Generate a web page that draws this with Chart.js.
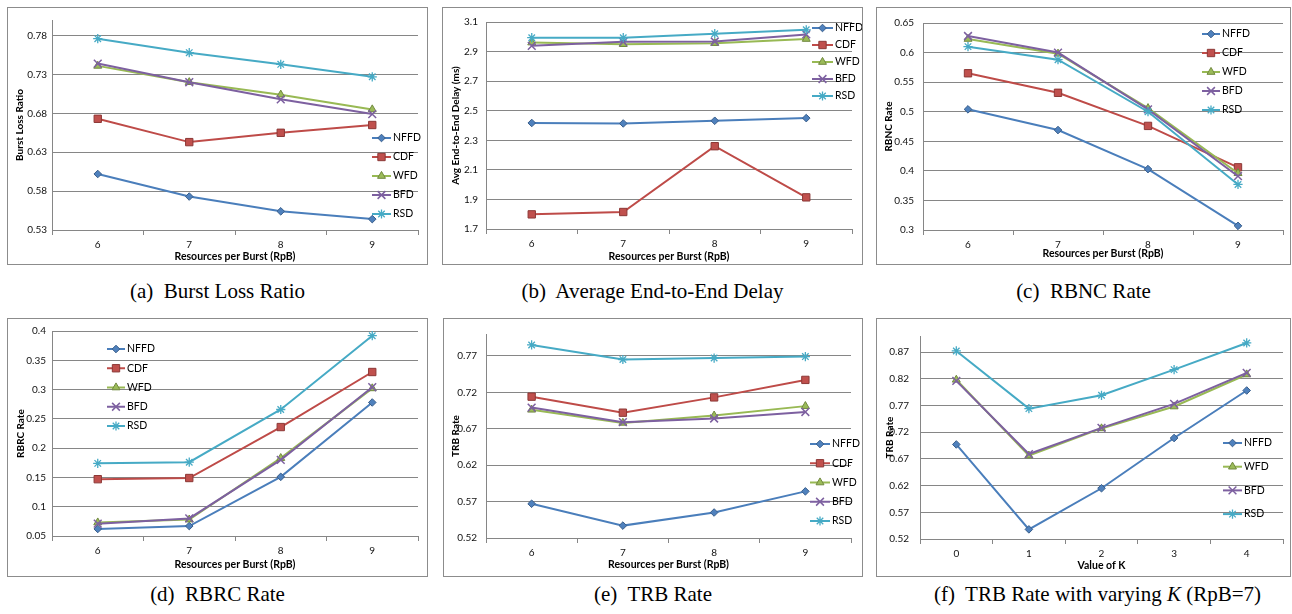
<!DOCTYPE html>
<html>
<head>
<meta charset="utf-8">
<script src="https://cdn.jsdelivr.net/npm/chart.js@4.4.1/dist/chart.umd.min.js"></script>
<style>
  body { margin: 0; background: #fff; }
  #page { position: relative; width: 1292px; height: 614px; overflow: hidden; }
  .panel { position: absolute; border: 1px solid #8c8c8c; box-sizing: border-box; }
  .panel canvas { display: block; }
  .cap { position: absolute; text-align: center; font: 21px "Liberation Serif", "Times New Roman", serif; color: #000; line-height: 24px; white-space: nowrap; }
</style>
</head>
<body>
<div id="page"></div>
<script>
// categories
const rpb = ['6', '7', '8', '9'];
const kValues = ['0', '1', '2', '3', '4'];

// (a) burst loss ratio
const lossNFFD = [0.602, 0.573, 0.554, 0.544];
const lossCDF  = [0.673, 0.643, 0.655, 0.665];
const lossWFD  = [0.741, 0.720, 0.704, 0.685];
const lossBFD  = [0.744, 0.720, 0.698, 0.679];
const lossRSD  = [0.776, 0.758, 0.743, 0.727];

// (b) average end-to-end delay (ms)
const delayNFFD = [2.417, 2.414, 2.432, 2.450];
const delayCDF  = [1.799, 1.815, 2.260, 1.914];
const delayWFD  = [2.961, 2.950, 2.957, 2.985];
const delayBFD  = [2.939, 2.966, 2.968, 3.016];
const delayRSD  = [2.994, 2.994, 3.021, 3.047];

// (c) RBNC rate
const rbncNFFD = [0.504, 0.469, 0.403, 0.307];
const rbncCDF  = [0.565, 0.532, 0.476, 0.406];
const rbncWFD  = [0.623, 0.598, 0.506, 0.396];
const rbncBFD  = [0.628, 0.600, 0.504, 0.391];
const rbncRSD  = [0.610, 0.588, 0.500, 0.377];

// (d) RBRC rate
const rbrcNFFD = [0.062, 0.067, 0.151, 0.278];
const rbrcCDF  = [0.147, 0.149, 0.236, 0.330];
const rbrcWFD  = [0.073, 0.078, 0.183, 0.302];
const rbrcBFD  = [0.071, 0.080, 0.180, 0.304];
const rbrcRSD  = [0.174, 0.176, 0.266, 0.392];

// (e) TRB rate
const trbNFFD = [0.567, 0.537, 0.555, 0.584];
const trbCDF  = [0.714, 0.692, 0.713, 0.737];
const trbWFD  = [0.696, 0.678, 0.688, 0.701];
const trbBFD  = [0.699, 0.679, 0.684, 0.693];
const trbRSD  = [0.785, 0.765, 0.767, 0.769];

// (f) TRB rate vs K (RpB=7)
const trbkNFFD = [0.697, 0.538, 0.615, 0.709, 0.798];
const trbkWFD  = [0.818, 0.676, 0.727, 0.768, 0.828];
const trbkBFD  = [0.816, 0.679, 0.728, 0.773, 0.831];
const trbkRSD  = [0.872, 0.764, 0.789, 0.837, 0.887];

// y tick labels
const ticksA = [0.53, 0.58, 0.63, 0.68, 0.73, 0.78];
const ticksB = [1.7, 1.9, 2.1, 2.3, 2.5, 2.7, 2.9, 3.1];
const ticksC = [0.3, 0.35, 0.4, 0.45, 0.5, 0.55, 0.6, 0.65];
const ticksD = [0.05, 0.1, 0.15, 0.2, 0.25, 0.3, 0.35, 0.4];
const ticksE = [0.52, 0.57, 0.62, 0.67, 0.72, 0.77];
const ticksF = [0.52, 0.57, 0.62, 0.67, 0.72, 0.77, 0.82, 0.87];

const styles = {
  NFFD: { line: '#4a7ebb', fill: '#4f81bd', edge: '#385d8a', shape: 'rectRot', r: 3.8, bw: 1 },
  CDF:  { line: '#be4b48', fill: '#c0504d', edge: '#8c3836', shape: 'rect', r: 5.2, bw: 1 },
  WFD:  { line: '#98b954', fill: '#9bbb59', edge: '#71893f', shape: 'triangle', r: 4.6, bw: 1 },
  BFD:  { line: '#7d60a0', fill: '#8064a2', edge: '#7d60a0', shape: 'crossRot', r: 5.5, bw: 1.5 },
  RSD:  { line: '#46aac5', fill: '#4bacc6', edge: '#46aac5', shape: 'star', r: 4.6, bw: 1.3 }
};

const FONT = 'Lato, "Open Sans", sans-serif';
const GRID = '#868686';

// legend drawn Excel-style: short line with the marker in the middle
const excelLegend = {
  id: 'excelLegend',
  afterDraw(chart, args, o) {
    const ctx = chart.ctx;
    chart.data.datasets.forEach((ds, i) => {
      const y = o.y + i * o.gap;
      ctx.save();
      ctx.strokeStyle = ds.borderColor;
      ctx.lineWidth = ds.borderWidth;
      ctx.beginPath();
      ctx.moveTo(o.x, y);
      ctx.lineTo(o.x + o.len, y);
      ctx.stroke();
      ctx.fillStyle = ds.pointBackgroundColor;
      ctx.strokeStyle = ds.pointBorderColor;
      ctx.lineWidth = ds.pointBorderWidth;
      Chart.helpers.drawPoint(ctx, { pointStyle: ds.pointStyle, radius: ds.pointRadius, borderWidth: ds.pointBorderWidth, rotation: 0 }, o.x + o.len / 2, y);
      ctx.fillStyle = '#000';
      ctx.font = '10.5px ' + FONT;
      ctx.textBaseline = 'middle';
      ctx.textAlign = 'left';
      ctx.fillText(ds.label, o.x + o.len + 2, y);
      ctx.restore();
    });
  }
};

function makeSeries(names, arrays) {
  return names.map((n, i) => {
    const s = styles[n];
    return {
      label: n,
      data: arrays[i],
      borderColor: s.line,
      borderWidth: 2,
      pointStyle: s.shape,
      pointRadius: s.r,
      pointBackgroundColor: s.fill,
      pointBorderColor: s.edge,
      pointBorderWidth: s.bw,
      tension: 0,
      order: names.length - i
    };
  });
}

function panel(p) {
  const page = document.getElementById('page');
  const [fx, fy, fw, fh] = p.frame;
  const div = document.createElement('div');
  div.className = 'panel';
  div.style.cssText = `left:${fx}px;top:${fy}px;width:${fw}px;height:${fh}px`;
  const cv = document.createElement('canvas');
  const W = fw - 2, H = fh - 2, ox = fx + 1, oy = fy + 1;
  cv.width = W; cv.height = H;
  div.appendChild(cv);
  page.appendChild(div);

  const cap = document.createElement('div');
  cap.className = 'cap';
  cap.style.cssText = `left:${fx - 20 + (p.capShift || 0)}px;top:${p.capBase - 20}px;width:${fw + 40}px`;
  cap.innerHTML = p.caption;
  page.appendChild(cap);

  const [l, t, r, b] = p.area;
  const left = l - ox, top = t - oy, right = r - ox, bottom = b - oy;
  const xTitlePad = H - (p.xTitleY - oy) - 6;
  const yTitlePad = (p.yTitleX - ox) - 6;

  new Chart(cv, {
    type: 'line',
    data: { labels: p.labels, datasets: makeSeries(p.names, p.series) },
    options: {
      responsive: false,
      animation: false,
      layout: { padding: { left: 0, top: top, right: W - right, bottom: 0 } },
      plugins: {
        legend: { display: false },
        tooltip: { enabled: false },
        excelLegend: { x: p.legend[0] - ox, y: p.legend[1] - oy, gap: p.legend[2], len: p.legend[3] }
      },
      scales: {
        x: {
          offset: true,
          afterFit: (s) => { s.height = H - bottom; },
          grid: { offset: true, drawOnChartArea: false, drawTicks: true, tickLength: 5, color: GRID },
          border: { color: GRID, width: 1 },
          ticks: { color: '#111', padding: 4, font: { family: FONT, size: 10 }, maxRotation: 0 },
          title: { display: true, text: p.xTitle, color: '#000', padding: { top: 0, bottom: xTitlePad }, font: { family: FONT, size: 10.5, weight: 'bold', lineHeight: 1.15 } }
        },
        y: {
          min: p.ticks[0],
          max: p.max,
          afterFit: (s) => { s.width = left; },
          afterBuildTicks: (s) => { s.ticks = p.ticks.map(v => ({ value: v })); },
          grid: { color: GRID, lineWidth: 1, drawTicks: false },
          border: { color: GRID, width: 1 },
          ticks: { color: '#111', padding: p.yPad, font: { family: FONT, size: 10 }, callback: (v) => String(+Number(v).toFixed(2)) },
          title: { display: true, text: p.yTitle, color: '#000', padding: { top: yTitlePad, bottom: 0 }, font: { family: FONT, size: 10, weight: 'bold', lineHeight: 1.2 } }
        }
      }
    },
    plugins: [excelLegend]
  });
}

const five = ['NFFD', 'CDF', 'WFD', 'BFD', 'RSD'];
const rpbTitle = 'Resources per Burst (RpB)';

panel({
  frame: [7, 7, 421, 258], area: [52, 20, 418, 230], xTitleY: 257, yTitleX: 20, yPad: 5, capBase: 299,
  legend: [372, 138, 19, 19], labels: rpb, names: five,
  series: [lossNFFD, lossCDF, lossWFD, lossBFD, lossRSD], ticks: ticksA, max: 0.8,
  xTitle: rpbTitle, yTitle: 'Burst Loss Ratio', caption: '(a)&nbsp; Burst Loss Ratio'
});
panel({
  frame: [442, 7, 421, 258], area: [486, 17, 852, 229], xTitleY: 257, yTitleX: 456, yPad: 8, capBase: 299,
  legend: [812, 28, 17, 21], labels: rpb, names: five,
  series: [delayNFFD, delayCDF, delayWFD, delayBFD, delayRSD], ticks: ticksB, max: 3.1,
  xTitle: rpbTitle, yTitle: 'Avg End-to-End Delay (ms)', caption: '(b)&nbsp; Average End-to-End Delay'
});
panel({
  frame: [876, 7, 415, 258], area: [923, 16, 1288, 230], xTitleY: 254, yTitleX: 889, yPad: 9, capBase: 299,
  legend: [1202, 34, 19, 18], labels: rpb, names: five,
  series: [rbncNFFD, rbncCDF, rbncWFD, rbncBFD, rbncRSD], ticks: ticksC, max: 0.65,
  xTitle: rpbTitle, yTitle: 'RBNC Rate', caption: '(c)&nbsp; RBNC Rate'
});
panel({
  frame: [7, 318, 421, 259], area: [52, 327, 418, 536], xTitleY: 565, yTitleX: 21, yPad: 6, capBase: 602,
  legend: [107, 349, 19.25, 18], labels: rpb, names: five,
  series: [rbrcNFFD, rbrcCDF, rbrcWFD, rbrcBFD, rbrcRSD], ticks: ticksD, max: 0.4,
  xTitle: rpbTitle, yTitle: 'RBRC Rate', caption: '(d)&nbsp; RBRC Rate'
});
panel({
  frame: [443, 318, 420, 259], area: [486, 330, 851, 538], xTitleY: 565, yTitleX: 456, yPad: 9, capBase: 602,
  legend: [810, 444, 19.25, 20], labels: rpb, names: five,
  series: [trbNFFD, trbCDF, trbWFD, trbBFD, trbRSD], ticks: ticksE, max: 0.8,
  xTitle: rpbTitle, yTitle: 'TRB Rate', caption: '(e)&nbsp; TRB Rate'
});
panel({
  frame: [876, 318, 415, 259], area: [920, 330, 1284, 539], xTitleY: 566, yTitleX: 890, yPad: 11, capBase: 602, capShift: 14,
  legend: [1223, 443, 23.7, 19], labels: kValues, names: ['NFFD', 'WFD', 'BFD', 'RSD'],
  series: [trbkNFFD, trbkWFD, trbkBFD, trbkRSD], ticks: ticksF, max: 0.9,
  xTitle: 'Value of K', yTitle: 'TRB Rate', caption: '(f)&nbsp; TRB Rate with varying <i>K</i> (RpB=7)'
});
</script>
</body>
</html>
